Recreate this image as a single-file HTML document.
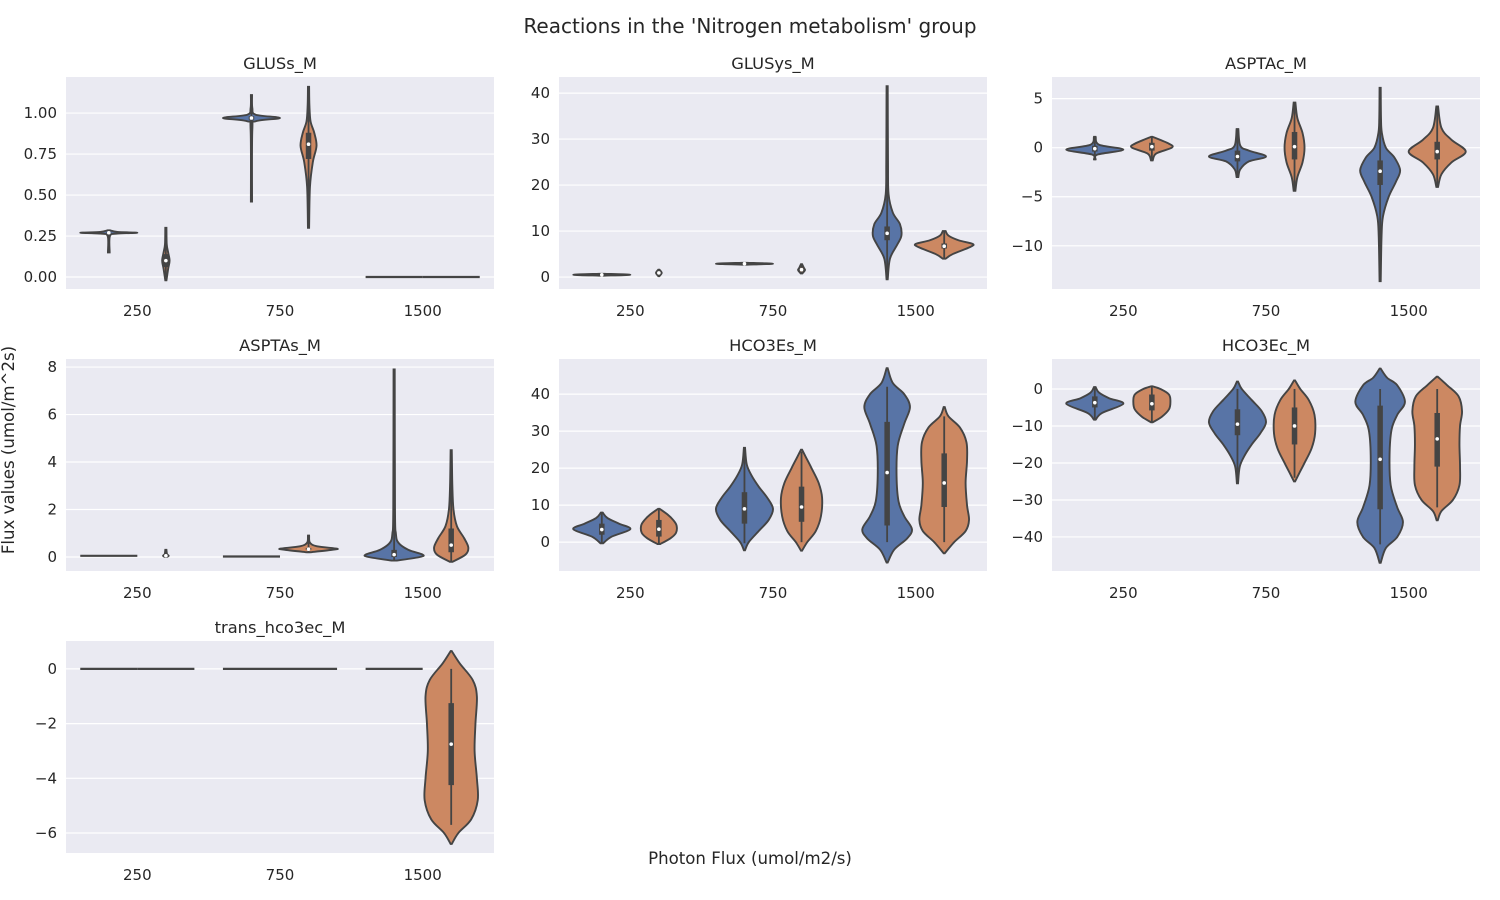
<!DOCTYPE html>
<html><head><meta charset="utf-8"><style>
body{margin:0;background:#fff;}
svg{display:block;font-family:"DejaVu Sans","Liberation Sans",sans-serif;}
</style></head><body>
<svg id="chart" width="1500" height="900" viewBox="0 0 1500 900" xmlns="http://www.w3.org/2000/svg">
<text x="750" y="33" text-anchor="middle" font-size="20" fill="#262626">Reactions in the 'Nitrogen metabolism' group</text>
<text x="750" y="864" text-anchor="middle" font-size="16.6" fill="#262626">Photon Flux (umol/m2/s)</text>
<text transform="translate(14,450) rotate(-90)" text-anchor="middle" font-size="16.6" fill="#262626">Flux values (umol/m^2s)</text>
</svg>
<script>
const categories = ["250","750","1500"];
const panelTitles = ["GLUSs_M","GLUSys_M","ASPTAc_M","ASPTAs_M","HCO3Es_M","HCO3Ec_M","trans_hco3ec_M"];
const panelYLims = [[-0.073,1.22],[-2.6,43.5],[-14.4,7.2],[-0.59,8.34],[-7.8,49.5],[-49.2,8.1],[-6.73,1.02]];
const panelTicks = [[0,0.25,0.5,0.75,1],[0,10,20,30,40],[-10,-5,0,5],[0,2,4,6,8],[0,10,20,30,40],[-40,-30,-20,-10,0],[-6,-4,-2,0]];
const tickDecimals = [2,0,0,0,0,0,0];
// violins: [category, hue, profile [[value, halfwidth fraction]], box [wlo,q1,med,q3,whi]]
const violinsP1 = [
 [0,0,[[0.15,0.03],[0.25,0.04],[0.265,0.3],[0.27,1],[0.275,0.3],[0.285,0.04]],[0.15,0.268,0.27,0.272,0.28]],
 [0,1,[[-0.02,0.02],[0.05,0.08],[0.1,0.13],[0.15,0.08],[0.2,0.03],[0.3,0.02]],[0.0,0.06,0.1,0.14,0.25]],
 [1,0,[[0.46,0.02],[0.9,0.03],[0.95,0.15],[0.97,1],[0.99,0.15],[1.03,0.03],[1.11,0.02]],[0.46,0.96,0.97,0.98,1.11]],
 [1,1,[[0.3,0.02],[0.55,0.05],[0.7,0.15],[0.8,0.28],[0.88,0.2],[0.95,0.07],[1.05,0.03],[1.16,0.02]],[0.3,0.72,0.81,0.88,1.16]],
 [2,0,[[0,1]],null],[2,1,[[0,1]],null]];
const violinsP2 = [
 [0,0,[[0.3,0.1],[0.5,1],[0.7,0.1]],[0.3,0.45,0.5,0.55,0.7]],
 [0,1,[[0.2,0.02],[0.9,0.1],[1.6,0.02]],[0.3,0.7,0.9,1.1,1.5]],
 [1,0,[[2.7,0.1],[2.9,1],[3.1,0.1]],[2.7,2.85,2.9,2.95,3.1]],
 [1,1,[[0.8,0.03],[1.5,0.12],[2.0,0.08],[2.8,0.02]],[1.0,1.3,1.6,1.9,2.6]],
 [2,0,[[-0.5,0.02],[4,0.1],[7,0.35],[9,0.5],[11.5,0.45],[14,0.2],[18,0.05],[25,0.03],[41.5,0.02]],[-0.5,8,9.5,11,41.5]],
 [2,1,[[4,0.05],[5,0.3],[6.5,0.9],[7.2,1],[8,0.5],[9,0.15],[10,0.05]],[4,6.2,6.7,7.3,10]]];
const violinsP3 = [
 [0,0,[[-1.2,0.03],[-0.7,0.1],[-0.2,1],[0.3,0.15],[1.1,0.03]],[-1.2,-0.4,-0.1,0.2,1.1]],
 [0,1,[[-1.3,0.03],[-0.6,0.15],[0,0.7],[0.4,0.6],[1.1,0.03]],[-1.3,-0.3,0.1,0.5,1.1]],
 [1,0,[[-3,0.03],[-2.2,0.1],[-1.4,0.4],[-0.9,1],[-0.3,0.4],[0.2,0.1],[1.9,0.03]],[-3,-1.4,-0.9,-0.3,1.9]],
 [1,1,[[-4.4,0.03],[-3,0.1],[-1.5,0.28],[0,0.35],[1.5,0.28],[3,0.1],[4.6,0.03]],[-4.4,-1.2,0.1,1.6,4.6]],
 [2,0,[[-13.6,0.02],[-9,0.05],[-7,0.1],[-5,0.3],[-3.5,0.55],[-2.3,0.7],[-1,0.5],[0,0.2],[1.5,0.06],[3,0.03],[6.1,0.02]],[-13.6,-3.8,-2.4,-1.3,6.1]],
 [2,1,[[-4,0.03],[-2.7,0.15],[-1.5,0.5],[-0.4,1],[0.8,0.5],[2,0.15],[4.2,0.03]],[-4,-1.2,-0.4,0.6,4.2]]];
const violinsP4 = [
 [0,0,[[0.05,1]],null],
 [0,1,[[0,0.03],[0.05,0.1],[0.12,0.04],[0.3,0.02]],[0,0.02,0.05,0.08,0.3]],
 [1,0,[[0.02,1]],null],
 [1,1,[[0.2,0.05],[0.3,0.8],[0.35,1],[0.45,0.3],[0.6,0.05],[0.9,0.02]],[0.2,0.3,0.33,0.38,0.9]],
 [2,0,[[-0.15,0.1],[0,0.9],[0.1,1],[0.3,0.5],[0.6,0.15],[1,0.06],[2,0.03],[7.9,0.02]],[-0.15,0,0.1,0.3,7.9]],
 [2,1,[[-0.2,0.05],[0.1,0.5],[0.4,0.6],[0.8,0.45],[1.3,0.2],[2,0.08],[3,0.04],[4.5,0.02]],[-0.2,0.2,0.5,1.2,4.5]]];
const violinsP5 = [
 [0,0,[[-0.3,0.05],[1.5,0.35],[3.5,1],[5,0.6],[6.5,0.2],[8,0.03]],[-0.3,2,3.4,5,8]],
 [0,1,[[-0.5,0.05],[1,0.4],[2.5,0.6],[4.5,0.62],[6,0.5],[7.5,0.3],[9,0.03]],[-0.5,1.5,3.5,6,9]],
 [1,0,[[-2.2,0.02],[0,0.15],[3,0.5],[6,0.85],[9,1],[12,0.8],[15,0.5],[18,0.25],[21,0.08],[25.5,0.02]],[-0.3,5,9,13.5,25]],
 [1,1,[[-2.3,0.02],[0,0.2],[3,0.5],[7,0.68],[12,0.72],[16,0.6],[20,0.35],[23,0.15],[25,0.02]],[0,5.5,9.5,15,24.5]],
 [2,0,[[-5.5,0.02],[-2,0.25],[1,0.7],[3.5,0.87],[7,0.6],[11,0.4],[18,0.33],[26,0.37],[32,0.6],[36.5,0.8],[40,0.6],[43,0.2],[47,0.02]],[0,4.5,18.8,32.5,42]],
 [2,1,[[-3,0.02],[0,0.35],[3,0.75],[6,0.87],[10,0.8],[16,0.75],[22,0.8],[27,0.78],[31,0.55],[34,0.15],[36.5,0.02]],[0,9.5,16,24,34]]];
const violinsP6 = [
 [0,0,[[-8.3,0.03],[-6.5,0.25],[-4,1],[-2.5,0.5],[-1,0.15],[0.5,0.03]],[-8.3,-5,-3.7,-2,0.5]],
 [0,1,[[-9,0.03],[-7.5,0.35],[-5.5,0.6],[-3.5,0.65],[-1.5,0.6],[0,0.3],[0.7,0.03]],[-9,-5.8,-4,-1.5,0.7]],
 [1,0,[[-25.5,0.02],[-21,0.08],[-18,0.25],[-15,0.5],[-12,0.8],[-9,1],[-6,0.85],[-3,0.5],[0,0.15],[2,0.02]],[-25,-12.5,-9.5,-5.5,0]],
 [1,1,[[-25,0.02],[-23,0.15],[-20,0.35],[-16,0.6],[-12,0.72],[-7,0.7],[-3,0.5],[0,0.2],[2.3,0.02]],[-24,-15,-10,-5,0]],
 [2,0,[[-47,0.02],[-43,0.2],[-40,0.6],[-36,0.8],[-32,0.6],[-26,0.37],[-18,0.33],[-11,0.4],[-7,0.6],[-3.5,0.87],[1,0.6],[3,0.25],[5.5,0.02]],[-42,-32.5,-19,-4.5,0]],
 [2,1,[[-35.5,0.02],[-33,0.15],[-30,0.55],[-26,0.78],[-21,0.8],[-15,0.78],[-10,0.8],[-6,0.87],[-2,0.75],[1,0.35],[3.3,0.02]],[-32,-21,-13.5,-6.5,0]]];
const violinsP7 = [
 [0,0,[[0,1]],null],[0,1,[[0,1]],null],[1,0,[[0,1]],null],[1,1,[[0,1]],null],[2,0,[[0,1]],null],
 [2,1,[[-6.4,0.02],[-6,0.25],[-5.5,0.7],[-4.8,0.93],[-4,0.9],[-3,0.82],[-2,0.85],[-1,0.9],[-0.4,0.75],[0.2,0.3],[0.65,0.02]],[-5.7,-4.25,-2.75,-1.25,0]]];
const allViolins = [violinsP1,violinsP2,violinsP3,violinsP4,violinsP5,violinsP6,violinsP7];
const hueColors = ["#5874a6","#cc8862"];

const NS="http://www.w3.org/2000/svg";
const svg=document.getElementById('chart');
function mk(tag,attrs,parent){const e=document.createElementNS(NS,tag);for(const k in attrs)e.setAttribute(k,attrs[k]);(parent||svg).appendChild(e);return e;}
const colX=[66,559,1052], rowY=[77,359,641], PW=428, PH=212;
function smoothPath(pts){
  let d="M"+pts[0][0]+","+pts[0][1];
  for(let i=0;i<pts.length-1;i++){
    const p0=pts[Math.max(0,i-1)],p1=pts[i],p2=pts[i+1],p3=pts[Math.min(pts.length-1,i+2)];
    const c1=[p1[0]+(p2[0]-p0[0])/6,p1[1]+(p2[1]-p0[1])/6];
    const c2=[p2[0]-(p3[0]-p1[0])/6,p2[1]-(p3[1]-p1[1])/6];
    d+=" C"+c1[0]+","+c1[1]+" "+c2[0]+","+c2[1]+" "+p2[0]+","+p2[1];
  }
  return d;
}
panelTitles.forEach((title,pi)=>{
  const x0=colX[pi%3], y0=rowY[Math.floor(pi/3)];
  const [lo,hi]=panelYLims[pi];
  const ys=v=>y0+PH-(v-lo)/(hi-lo)*PH;
  const catW=PW/3;
  const xs=(c,h)=>x0+catW*(c+0.5)+(h===0?-1:1)*catW*0.2;
  const g=mk('g',{});
  
  
  mk('rect',{x:x0,y:y0,width:PW,height:PH,fill:'#eaeaf2'},g);
  const t=mk('text',{x:x0+PW/2,y:y0-8,'text-anchor':'middle','font-size':16.3,fill:'#262626'},g);
  t.textContent=title;
  
  
  panelTicks[pi].forEach(v=>{
    const y=ys(v);
    mk('line',{x1:x0,x2:x0+PW,y1:y,y2:y,stroke:'#fff','stroke-width':1.2},g);
    const lt=mk('text',{x:x0-9,y:y+5,'text-anchor':'end','font-size':15,fill:'#262626'},g);
    lt.textContent=(v<0?'\u2212':'')+Math.abs(v).toFixed(tickDecimals[pi]);
    
    
  });
  categories.forEach((c,ci)=>{
    const xt=mk('text',{x:x0+catW*(ci+0.5),y:y0+PH+27,'text-anchor':'middle','font-size':15,fill:'#262626'},g);
    xt.textContent=c;
    
    
  });
  allViolins[pi].forEach(vi=>{
    const [c,h,prof,box]=vi;
    const cx=xs(c,h), maxW=catW*0.2;
    if(prof.length===1){
      const y=ys(prof[0][0]);
      const ln=mk('line',{x1:cx-maxW*prof[0][1],x2:cx+maxW*prof[0][1],y1:y,y2:y,stroke:'#444','stroke-width':2.2},g);
      
      
      return;
    }
    const right=prof.map(p=>[cx+p[1]*maxW,ys(p[0])]);
    const left=prof.slice().reverse().map(p=>[cx-p[1]*maxW,ys(p[0])]);
    const d=smoothPath(right)+" L"+left[0][0]+","+left[0][1]+smoothPath(left).replace(/^M[^C]*/,' ')+" Z";
    const pth=mk('path',{d:d,fill:hueColors[h],stroke:'#444','stroke-width':1.9},g);
    
    
    if(box){
      mk('line',{x1:cx,x2:cx,y1:ys(box[0]),y2:ys(box[4]),stroke:'#444','stroke-width':1.8},g);
      mk('line',{x1:cx,x2:cx,y1:ys(box[1]),y2:ys(box[3]),stroke:'#444','stroke-width':5.5},g);
      mk('circle',{cx:cx,cy:ys(box[2]),r:1.8,fill:'#fff'},g);
    }
  });
});
</script>
</body></html>
